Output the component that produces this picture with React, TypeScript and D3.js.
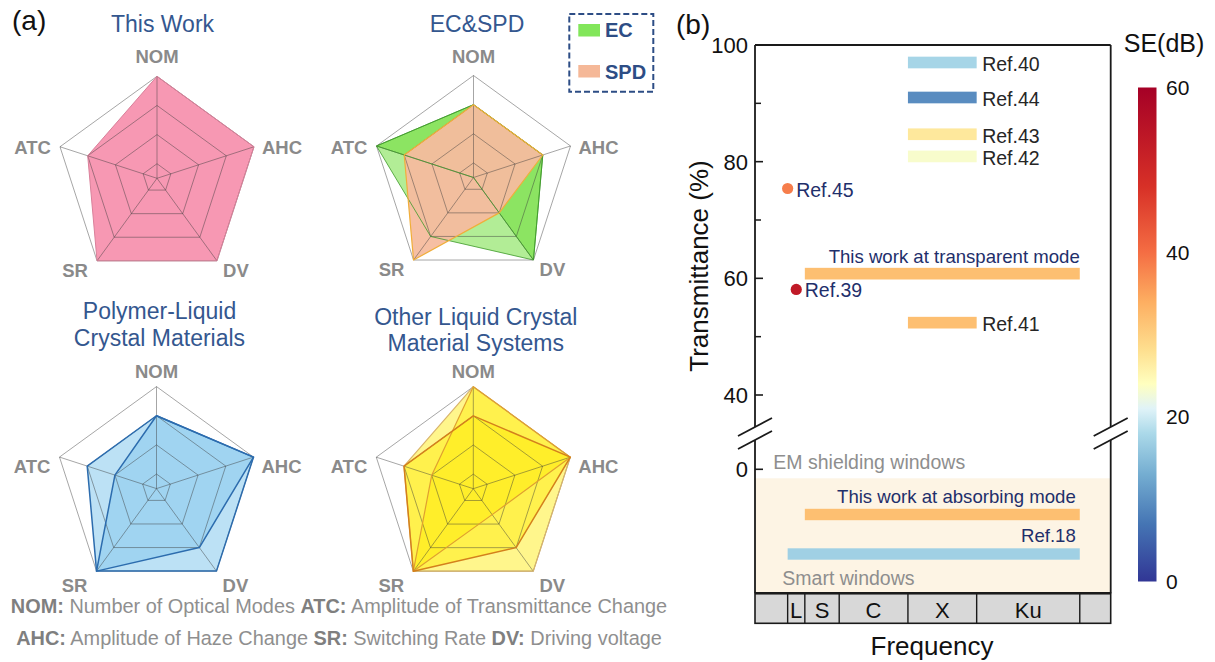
import React from 'react';
import * as d3 from 'd3';

// ---------------- Panel (a) data ----------------
const radarAxes = ['NOM', 'AHC', 'DV', 'SR', 'ATC'];
const ringLevels = [1, 2, 3, 4];
const thisWorkValues = [4, 4, 4, 4, 3];
const ecValuesA = [3, 3, 4, 3, 4];
const ecValuesB = [3, 3, 4, 0.5, 4];
const spdValues = [3, 3, 2, 4, 3];
const plcValuesA = [3, 4, 4, 4, 3];
const plcValuesB = [3, 4, 3, 4, 2];
const olcValuesA = [4, 4, 4, 4, 3];
const olcValuesB = [3, 4, 3, 4, 3];
const olcValuesC = [4, 4, 1.6, 4, 2];
const legendKeys = ['EC', 'SPD'];
const glossaryLine1 = [['NOM:', ' Number of Optical Modes '], ['ATC:', ' Amplitude of Transmittance Change']];
const glossaryLine2 = [['AHC:', ' Amplitude of Haze Change '], ['SR:', ' Switching Rate '], ['DV:', ' Driving voltage']];

// ---------------- Panel (b) data ----------------
const bandNames = ['L', 'S', 'C', 'X', 'Ku'];
const bandEdges = [1, 2, 4, 8, 12, 18];
const freqDomain = [-0.9, 19.8];
const transTicksMajor = [40, 60, 80, 100];
const transTicksMinor = [50, 70, 90];
const transTicksLow = [0];
const barNames = ['Ref.40', 'Ref.44', 'Ref.43', 'Ref.42', 'This work at transparent mode', 'Ref.41'];
const barStart = [8, 8, 8, 8, 2, 8];
const barEnd = [12, 12, 12, 12, 18, 12];
const barTrans = [97, 91, 84.7, 80.9, 60.8, 52.4];
const barSE = [17.5, 9.5, 27, 23.3, 32, 32];
const barLabelAbove = [false, false, false, false, true, false];
const dotNames = ['Ref.45', 'Ref.39'];
const dotFreq = [1, 1.5];
const dotTrans = [75.4, 58.1];
const dotSE = [38.5, 53.5];
const smartNames = ['This work at absorbing mode', 'Ref.18'];
const smartStart = [2, 1];
const smartEnd = [18, 18];
const smartRow = [1, 2];
const smartSE = [32, 17];
const seStops = [0, 7, 13, 18, 21, 24, 28, 34, 40, 48, 60];
const seColors = ['#313695', '#4575b4', '#74add1', '#abd9e9', '#e0f3f8', '#ffffbf', '#fee090', '#fdae61', '#f46d43', '#d73027', '#a50026'];
const seTicks = [0, 20, 40, 60];

const FONT = '"Liberation Sans", Arial, Helvetica, sans-serif';
const TITLE_COLOR = '#34578f';
const NAVY = '#1f2f6b';
const R = 102;

type Series = { values: number[]; fill: string; fillOpacity: number; stroke: string; strokeWidth: number; strokeOpacity?: number };

function Radar(props: { cx: number; cy: number; series: Series[]; titles: string[]; titleX: number; titleY: number[]; row: number }) {
  const { cx, cy, series, titles, titleX, titleY, row } = props;
  const r = d3.scaleLinear().domain([0.5, 4]).range([0, R]);
  const n = radarAxes.length;
  const ang = (i: number) => (i * 2 * Math.PI) / n;
  const line = d3
    .lineRadial<number>()
    .angle((_d, i) => ang(i))
    .radius((d) => r(d))
    .curve(d3.curveLinearClosed);
  const pt = (i: number, v: number) => [cx + r(v) * Math.sin(ang(i)), cy - r(v) * Math.cos(ang(i))];
  const off = row === 0 ? { nom: -19.5, side: 1, bottom: 9.5 } : { nom: -15.5, side: 9.5, bottom: 14 };
  const labelPos = (i: number) => {
    const [vx, vy] = pt(i, 4);
    if (i === 0) return { x: vx, y: vy + off.nom, a: 'middle' };
    if (i === 1) return { x: vx + 8, y: vy + off.side, a: 'start' };
    if (i === 2) return { x: vx + 19, y: vy + off.bottom, a: 'middle' };
    if (i === 3) return { x: vx - 22, y: vy + off.bottom, a: 'middle' };
    return { x: vx - 9, y: vy + off.side, a: 'end' };
  };
  return (
    <g>
      {titles.map((t, k) => (
        <text key={t} x={titleX} y={titleY[k]} textAnchor="middle" fontSize={23} fill={TITLE_COLOR} fontFamily={FONT}>
          {t}
        </text>
      ))}
      <g transform={`translate(${cx},${cy})`}>
        {series.map((s, k) => (
          <path key={'f' + k} d={line(s.values) || ''} fill={s.fill} fillOpacity={s.fillOpacity} stroke="none" />
        ))}
        {ringLevels.map((l) => (
          <path key={'r' + l} d={line(radarAxes.map(() => l)) || ''} fill="none" stroke="#3a3a3a" strokeOpacity={0.45} strokeWidth={1} />
        ))}
        {radarAxes.map((a, i) => (
          <line key={'s' + a} x1={0} y1={0} x2={r(4) * Math.sin(ang(i))} y2={-r(4) * Math.cos(ang(i))} stroke="#3a3a3a" strokeOpacity={0.45} strokeWidth={1} />
        ))}
        {series.map((s, k) => (
          <path key={'s' + k} d={line(s.values) || ''} fill="none" stroke={s.stroke} strokeWidth={s.strokeWidth} strokeOpacity={s.strokeOpacity ?? 1} strokeLinejoin="round" />
        ))}
      </g>
      {radarAxes.map((a, i) => {
        const p = labelPos(i);
        return (
          <text key={'l' + a} x={p.x} y={p.y} dy="0.36em" textAnchor={p.a as any} fontSize={18.5} fontWeight="bold" fill="#8a8a8a" fontFamily={FONT}>
            {a}
          </text>
        );
      })}
    </g>
  );
}

function PanelA() {
  const pink: Series[] = [{ values: thisWorkValues, fill: '#f798b3', fillOpacity: 1, stroke: '#d9809a', strokeWidth: 1 }];
  const ecspd: Series[] = [
    { values: ecValuesA, fill: '#66dc2e', fillOpacity: 0.5, stroke: '#3f9a2a', strokeWidth: 1, strokeOpacity: 0.8 },
    { values: ecValuesB, fill: '#66dc2e', fillOpacity: 0.5, stroke: '#3f9a2a', strokeWidth: 1, strokeOpacity: 0.8 },
    { values: spdValues, fill: '#f5bc9e', fillOpacity: 0.95, stroke: '#f0ae3a', strokeWidth: 1.2 },
  ];
  const blue: Series[] = [
    { values: plcValuesA, fill: '#8ccbee', fillOpacity: 0.58, stroke: '#2c6cae', strokeWidth: 1.5 },
    { values: plcValuesB, fill: '#8ccbee', fillOpacity: 0.58, stroke: '#2c6cae', strokeWidth: 1.5 },
  ];
  const yellow: Series[] = [
    { values: olcValuesA, fill: '#ffec00', fillOpacity: 0.45, stroke: '#d9b46a', strokeWidth: 1.2 },
    { values: olcValuesC, fill: '#ffec00', fillOpacity: 0.45, stroke: '#e0a030', strokeWidth: 1.2 },
    { values: olcValuesB, fill: '#ffec00', fillOpacity: 0.45, stroke: '#d4801c', strokeWidth: 1.5 },
  ];
  return (
    <g>
      <text x={12} y={30} fontSize={28} fontFamily={FONT} fill="#111">(a)</text>
      <Radar cx={157} cy={178.3} series={pink} titles={['This Work']} titleX={162.5} titleY={[32]} row={0} />
      <Radar cx={473.5} cy={177.5} series={ecspd} titles={['EC&SPD']} titleX={477} titleY={[32]} row={0} />
      <Radar cx={156.5} cy={488.6} series={blue} titles={['Polymer-Liquid', 'Crystal Materials']} titleX={159.5} titleY={[319, 346]} row={1} />
      <Radar cx={473.3} cy={488.7} series={yellow} titles={['Other Liquid Crystal', 'Material Systems']} titleX={475.8} titleY={[324.5, 351]} row={1} />
      {/* legend */}
      <rect x={569.3} y={14} width={84} height={77.7} fill="none" stroke="#2d4d85" strokeWidth={2} strokeDasharray="6 3" />
      {legendKeys.map((k, i) => (
        <g key={k}>
          <rect x={578.3} y={i === 0 ? 24 : 65} width={21.7} height={12.5} fill={i === 0 ? '#82e65a' : '#f5b898'} />
          <text x={605} y={i === 0 ? 30 : 71.5} dy="0.36em" fontSize={20} fontWeight="bold" fill="#2d4d85" fontFamily={FONT}>
            {k}
          </text>
        </g>
      ))}
      {[glossaryLine1, glossaryLine2].map((lineParts, li) => (
        <text key={li} x={339} y={li === 0 ? 612.5 : 645} textAnchor="middle" fontSize={19.9} fontFamily={FONT} style={{ whiteSpace: 'pre' }}>
          {lineParts.map(([k, v]) => (
            <React.Fragment key={k}>
              <tspan fontWeight="bold" fill="#7f7f7f">{k}</tspan>
              <tspan fill="#8f8f8f">{v}</tspan>
            </React.Fragment>
          ))}
        </text>
      ))}
    </g>
  );
}

function PanelB() {
  const L = 755;
  const Rt = 1110.7;
  const T = 45;
  const bandTop = 593.3;
  const bandBottom = 623.3;
  const brkA = 427;
  const brkB = 440;
  const xF = d3.scaleLinear().domain(freqDomain).range([L, Rt]);
  const yT = d3.scaleLinear().domain([100, 40]).range([T, 395]);
  const yLow = d3.scaleLinear().domain([0, -10]).range([469.3, 527.6]);
  const yRow = d3.scaleLinear().domain([0, 3]).range([475, 593.5]);
  const yCB = d3.scaleLinear().domain([0, 60]).range([581.5, 87.5]);
  const seColor = d3.scaleLinear<string>().domain(seStops).range(seColors).interpolate(d3.interpolateRgb);
  const axisColor = '#1a1a1a';
  const edges = [freqDomain[0], ...bandEdges, freqDomain[1]];
  const slash = (x: number, y: number, k: string) => (
    <line key={k} x1={x - 17} y1={y + 9} x2={x + 17} y2={y - 9} stroke={axisColor} strokeWidth={1.8} />
  );
  return (
    <g fontFamily={FONT}>
      <text x={676} y={34} fontSize={28} fill="#111">(b)</text>
      <rect x={L} y={478.3} width={Rt - L} height={bandTop - 478.3} fill="#fdf4e4" />
      <line x1={L} y1={T} x2={Rt} y2={T} stroke={axisColor} strokeWidth={1.8} />
      <line x1={L} y1={T} x2={L} y2={brkA} stroke={axisColor} strokeWidth={1.8} />
      <line x1={L} y1={brkB} x2={L} y2={bandTop} stroke={axisColor} strokeWidth={1.8} />
      <line x1={Rt} y1={T} x2={Rt} y2={brkA} stroke={axisColor} strokeWidth={1.8} />
      <line x1={Rt} y1={brkB} x2={Rt} y2={bandTop} stroke={axisColor} strokeWidth={1.8} />
      {slash(L, brkA, 'la')}
      {slash(L, brkB, 'lb')}
      {slash(Rt, brkA, 'ra')}
      {slash(Rt, brkB, 'rb')}
      {transTicksMajor.map((t) => (
        <g key={'M' + t}>
          <line x1={L} x2={L + 8} y1={yT(t)} y2={yT(t)} stroke={axisColor} strokeWidth={1.6} />
          <text x={748} y={yT(t)} dy="0.36em" textAnchor="end" fontSize={22} fill="#111">{t}</text>
        </g>
      ))}
      {transTicksMinor.map((t) => (
        <line key={'m' + t} x1={L} x2={L + 6} y1={yT(t)} y2={yT(t)} stroke={axisColor} strokeWidth={1.5} />
      ))}
      {transTicksLow.map((t) => (
        <g key={'low' + t}>
          <line x1={L} x2={L + 8} y1={yLow(t)} y2={yLow(t)} stroke={axisColor} strokeWidth={1.6} />
          <text x={748} y={yLow(t)} dy="0.36em" textAnchor="end" fontSize={22} fill="#111">{t}</text>
        </g>
      ))}
      <text transform="translate(699,266) rotate(-90)" dy="0.36em" textAnchor="middle" fontSize={26} fill="#111">
        Transmittance (%)
      </text>
      {barNames.map((nm, i) => {
        const yc = yT(barTrans[i]);
        const x0 = xF(barStart[i]);
        const x1 = xF(barEnd[i]);
        return (
          <g key={nm}>
            <rect x={x0} y={yT(barTrans[i] + 1)} width={x1 - x0} height={yT(barTrans[i] - 1) - yT(barTrans[i] + 1)} fill={seColor(barSE[i])} />
            {barLabelAbove[i] ? (
              <text x={x1} y={yc - 17} dy="0.36em" textAnchor="end" fontSize={18.6} fill={NAVY}>{nm}</text>
            ) : (
              <text x={x1 + 5.5} y={yc + 1.5} dy="0.36em" fontSize={19.5} fill="#262626">{nm}</text>
            )}
          </g>
        );
      })}
      {dotNames.map((nm, i) => (
        <g key={nm}>
          <circle cx={xF(dotFreq[i])} cy={yT(dotTrans[i])} r={5.6} fill={seColor(dotSE[i])} />
          <text x={xF(dotFreq[i]) + 8.5} y={yT(dotTrans[i]) + 1} dy="0.36em" fontSize={19.5} fill={NAVY}>{nm}</text>
        </g>
      ))}
      <text x={773.3} y={461.5} dy="0.36em" fontSize={19.5} fill="#8e8e8e">EM shielding windows</text>
      {smartNames.map((nm, i) => {
        const yc = yRow(smartRow[i]);
        const x0 = xF(smartStart[i]);
        const x1 = xF(smartEnd[i]);
        return (
          <g key={nm}>
            <rect x={x0} y={yc - 5.7} width={x1 - x0} height={11.4} fill={seColor(smartSE[i])} />
            <text x={x1 - 4} y={yc - 18.5} dy="0.36em" textAnchor="end" fontSize={18.6} fill={NAVY}>{nm}</text>
          </g>
        );
      })}
      <text x={782.3} y={578} dy="0.36em" fontSize={19.5} fill="#8e8e8e">Smart windows</text>
      <rect x={L} y={bandTop} width={Rt - L} height={bandBottom - bandTop} fill="#d8d8d8" stroke={axisColor} strokeWidth={1.6} />
      <line x1={L} y1={bandTop} x2={Rt} y2={bandTop} stroke={axisColor} strokeWidth={2.6} />
      {bandEdges.map((f) => (
        <line key={'e' + f} x1={xF(f)} x2={xF(f)} y1={bandTop} y2={bandBottom} stroke={axisColor} strokeWidth={1.4} />
      ))}
      {bandNames.map((b, i) => (
        <text key={b} x={(xF(edges[i + 1]) + xF(edges[i + 2])) / 2} y={618.3} textAnchor="middle" fontSize={22} fill="#111">{b}</text>
      ))}
      <text x={932} y={655} textAnchor="middle" fontSize={26} fill="#111">Frequency</text>
      <defs>
        <linearGradient id="seGrad" x1="0" y1="1" x2="0" y2="0">
          {seStops.map((s, i) => (
            <stop key={s} offset={s / 60} stopColor={seColors[i]} />
          ))}
        </linearGradient>
      </defs>
      <rect x={1138} y={yCB(60)} width={18.5} height={yCB(0) - yCB(60)} fill="url(#seGrad)" />
      {seTicks.map((t) => (
        <text key={'cb' + t} x={1166} y={yCB(t)} dy="0.36em" fontSize={21} fill="#111">{t}</text>
      ))}
      <text x={1164} y={52} textAnchor="middle" fontSize={25} fill="#111">SE(dB)</text>
    </g>
  );
}

export default function App() {
  return (
    <div style={{ position: 'absolute', left: 0, top: 0 }}>
      <svg width={1215} height={662} style={{ display: 'block', background: '#fff' }}>
        <PanelA />
        <PanelB />
      </svg>
    </div>
  );
}
